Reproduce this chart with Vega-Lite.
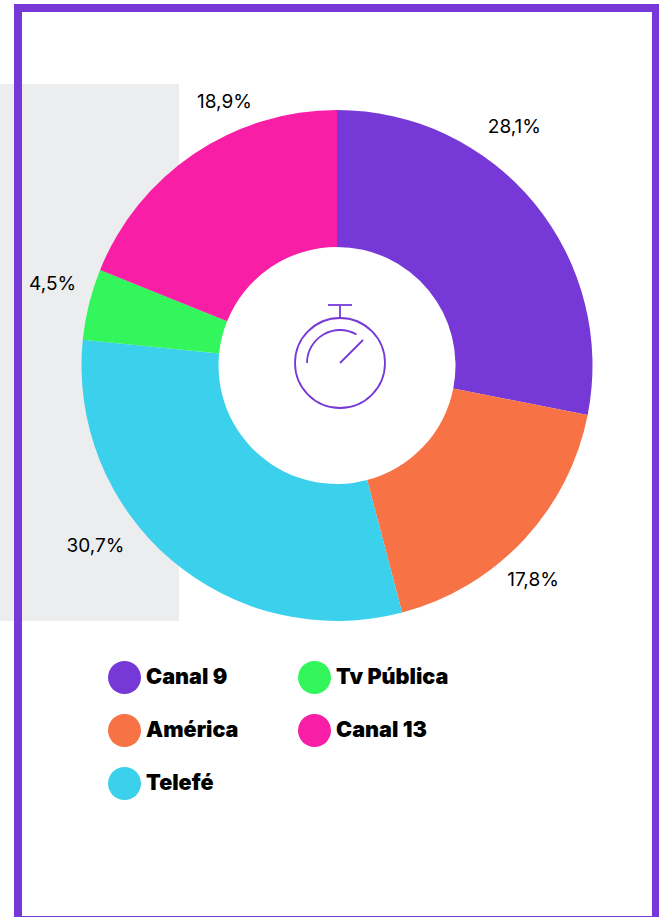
{
"$schema":"https://vega.github.io/schema/vega-lite/v6.json",
"width":659,"height":917,
"autosize":{"type":"fit","contains":"padding"},
"padding":0,
"background":"#ffffff",
"config":{"view":{"stroke":null},"axis":{"domain":false,"ticks":false,"grid":false}},
"datasets":{"shares":[
{"canal":"Canal 9","share":28.1,"orden":1,"etiqueta":"28,1%"},
{"canal":"América","share":17.8,"orden":2,"etiqueta":"17,8%"},
{"canal":"Telefé","share":30.7,"orden":3,"etiqueta":"30,7%"},
{"canal":"Tv Pública","share":4.5,"orden":4,"etiqueta":"4,5%"},
{"canal":"Canal 13","share":18.9,"orden":5,"etiqueta":"18,9%"}
],"uno":[{"n":1}]},
"layer":[
{"data":{"name":"uno"},"mark":{"type":"rect","fill":"#ecedef"},
 "encoding":{"x":{"datum":0,"type":"quantitative","scale":{"domain":[0,659],"range":[0,659],"nice":false,"zero":false},"axis":null},"x2":{"datum":179},
 "y":{"datum":84,"type":"quantitative","scale":{"domain":[0,917],"range":[0,917],"nice":false,"zero":false},"axis":null},"y2":{"datum":621}}},
{"data":{"name":"uno"},"mark":{"type":"rect","fill":null,"stroke":"#7639d8","strokeWidth":8},
 "encoding":{"x":{"datum":18,"type":"quantitative"},"x2":{"datum":656},"y":{"datum":8,"type":"quantitative"},"y2":{"datum":920}}},
{"data":{"name":"shares"},"mark":{"type":"arc","radius":255.5,"innerRadius":118.5},
 "encoding":{
  "x":{"datum":337,"type":"quantitative"},"y":{"datum":365.5,"type":"quantitative"},
  "theta":{"field":"share","type":"quantitative","stack":true,"scale":{"domain":[0,100]}},
  "order":{"field":"orden","type":"quantitative"},
  "color":{"field":"canal","type":"nominal","scale":{"domain":["Canal 9","América","Telefé","Tv Pública","Canal 13"],"range":["#7639d8","#f77244","#3bd0ec","#33f55c","#f81ea6"]},
   "legend":{"title":null,"orient":"none","legendX":108,"legendY":661,"padding":0,"direction":"vertical","columns":2,"symbolType":"circle","symbolSize":1089,"symbolStrokeWidth":0,"labelFont":"Inter","labelFontWeight":900,"labelFontSize":21.6,"labelColor":"#000000","labelOffset":5,"rowPadding":20,"columnPadding":59,"labelLimit":200}}}},
{"data":{"name":"uno"},"mark":{"type":"point","shape":"circle","filled":false,"stroke":"#7639d8","strokeWidth":1.8,"size":8100,"opacity":1},
 "encoding":{"x":{"datum":340,"type":"quantitative"},"y":{"datum":363,"type":"quantitative"}}},
{"data":{"name":"uno"},"mark":{"type":"arc","radius":33,"innerRadius":33,"theta":-1.5708,"theta2":0.5236,"fill":null,"stroke":"#7639d8","strokeWidth":1.8},
 "encoding":{"x":{"datum":340,"type":"quantitative"},"y":{"datum":363,"type":"quantitative"}}},
{"data":{"name":"uno"},"mark":{"type":"rule","stroke":"#7639d8","strokeWidth":1.8},
 "encoding":{"x":{"datum":340,"type":"quantitative"},"x2":{"datum":363},"y":{"datum":363,"type":"quantitative"},"y2":{"datum":340}}},
{"data":{"name":"uno"},"mark":{"type":"rule","stroke":"#7639d8","strokeWidth":1.8},
 "encoding":{"x":{"datum":340,"type":"quantitative"},"y":{"datum":305,"type":"quantitative"},"y2":{"datum":318}}},
{"data":{"name":"uno"},"mark":{"type":"rule","stroke":"#7639d8","strokeWidth":1.8},
 "encoding":{"x":{"datum":328,"type":"quantitative"},"x2":{"datum":352},"y":{"datum":305,"type":"quantitative"}}},
{"data":{"name":"shares"},"transform":[{"stack":"share","sort":[{"field":"orden"}],"groupby":[],"as":["s0","s1"]},{"calculate":"(datum.s0+datum.s1)/2","as":"mid"},{"filter":"datum.canal==='Canal 9'"}],
 "mark":{"type":"text","radius":295,"dx":-50.5,"dy":-51,"font":"Inter","fontSize":19,"fill":"#000000"},
 "encoding":{"x":{"datum":337,"type":"quantitative"},"y":{"datum":365.5,"type":"quantitative"},"theta":{"field":"mid","type":"quantitative","stack":false,"scale":{"domain":[0,100]}},"text":{"field":"etiqueta"}}},
{"data":{"name":"shares"},"transform":[{"stack":"share","sort":[{"field":"orden"}],"groupby":[],"as":["s0","s1"]},{"calculate":"(datum.s0+datum.s1)/2","as":"mid"},{"filter":"datum.canal==='América'"}],
 "mark":{"type":"text","radius":295,"dx":-19,"dy":13,"font":"Inter","fontSize":19,"fill":"#000000"},
 "encoding":{"x":{"datum":337,"type":"quantitative"},"y":{"datum":365.5,"type":"quantitative"},"theta":{"field":"mid","type":"quantitative","stack":false,"scale":{"domain":[0,100]}},"text":{"field":"etiqueta"}}},
{"data":{"name":"shares"},"transform":[{"stack":"share","sort":[{"field":"orden"}],"groupby":[],"as":["s0","s1"]},{"calculate":"(datum.s0+datum.s1)/2","as":"mid"},{"filter":"datum.canal==='Telefé'"}],
 "mark":{"type":"text","radius":295,"dx":-50,"dy":-44,"font":"Inter","fontSize":19,"fill":"#000000"},
 "encoding":{"x":{"datum":337,"type":"quantitative"},"y":{"datum":365.5,"type":"quantitative"},"theta":{"field":"mid","type":"quantitative","stack":false,"scale":{"domain":[0,100]}},"text":{"field":"etiqueta"}}},
{"data":{"name":"shares"},"transform":[{"stack":"share","sort":[{"field":"orden"}],"groupby":[],"as":["s0","s1"]},{"calculate":"(datum.s0+datum.s1)/2","as":"mid"},{"filter":"datum.canal==='Tv Pública'"}],
 "mark":{"type":"text","radius":295,"dx":2,"dy":-11,"font":"Inter","fontSize":19,"fill":"#000000"},
 "encoding":{"x":{"datum":337,"type":"quantitative"},"y":{"datum":365.5,"type":"quantitative"},"theta":{"field":"mid","type":"quantitative","stack":false,"scale":{"domain":[0,100]}},"text":{"field":"etiqueta"}}},
{"data":{"name":"shares"},"transform":[{"stack":"share","sort":[{"field":"orden"}],"groupby":[],"as":["s0","s1"]},{"calculate":"(datum.s0+datum.s1)/2","as":"mid"},{"filter":"datum.canal==='Canal 13'"}],
 "mark":{"type":"text","radius":295,"dx":52.5,"dy":-19,"font":"Inter","fontSize":19,"fill":"#000000"},
 "encoding":{"x":{"datum":337,"type":"quantitative"},"y":{"datum":365.5,"type":"quantitative"},"theta":{"field":"mid","type":"quantitative","stack":false,"scale":{"domain":[0,100]}},"text":{"field":"etiqueta"}}}
]
}
